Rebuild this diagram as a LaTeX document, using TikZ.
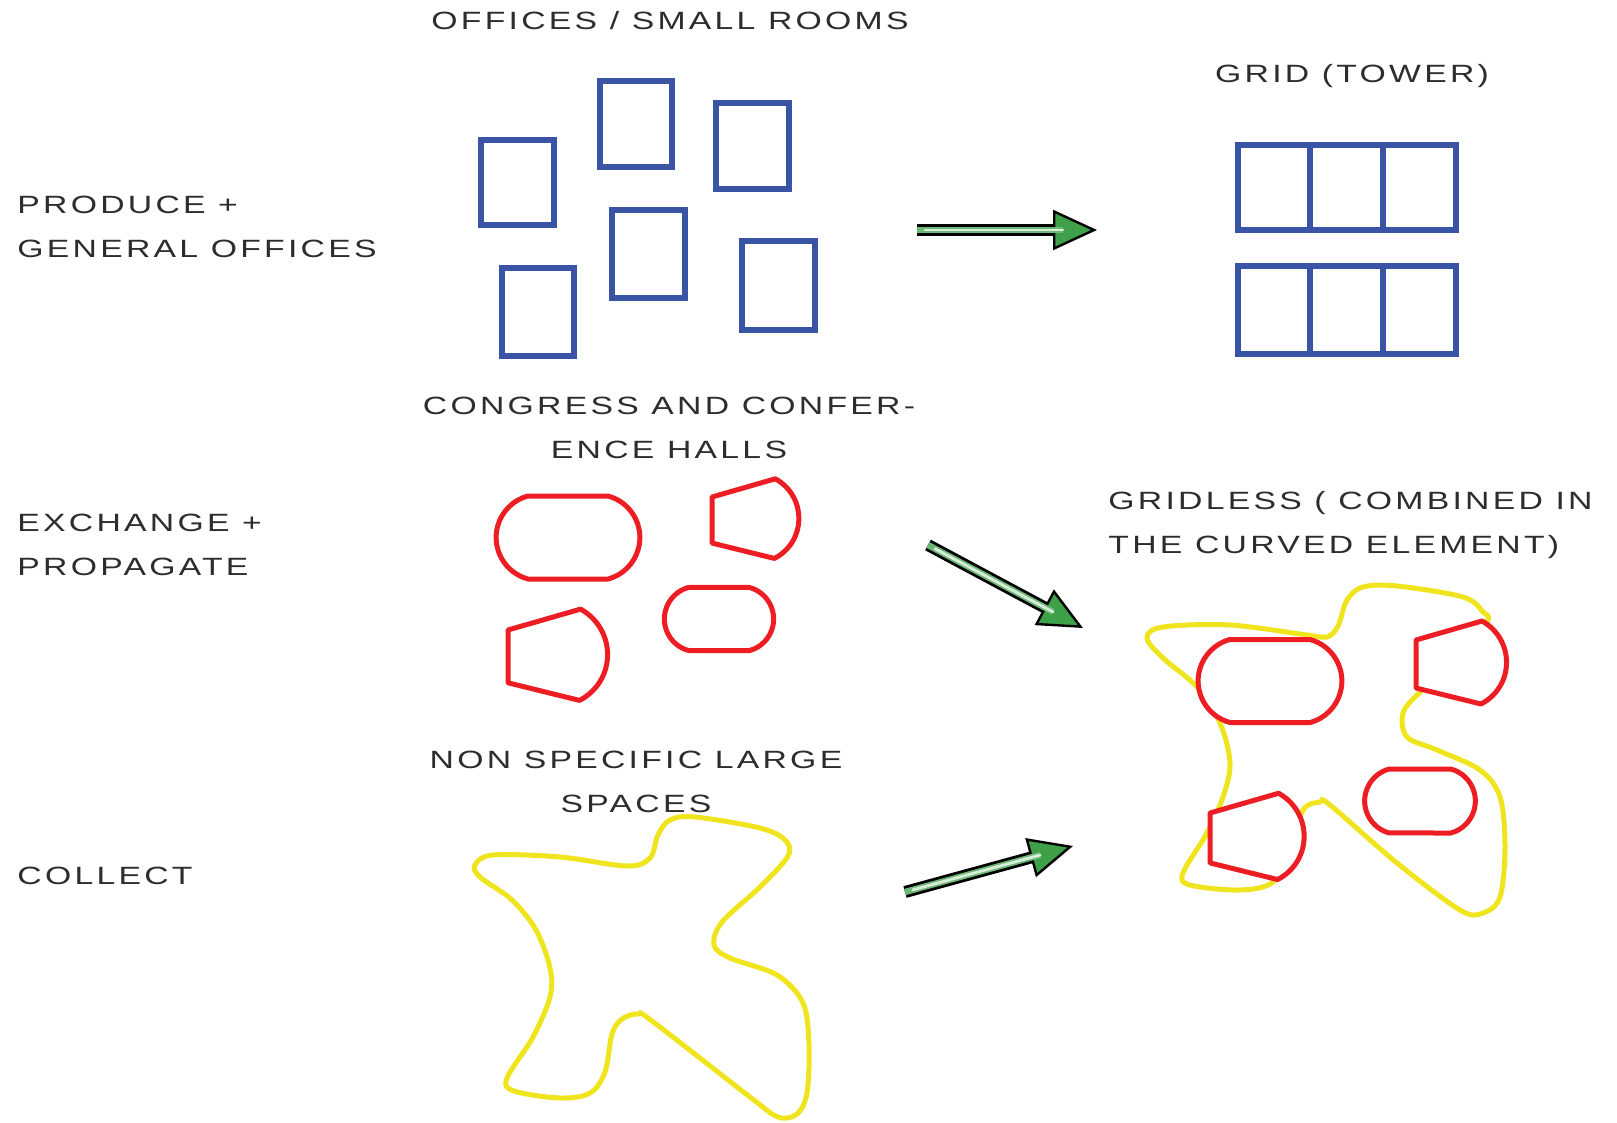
\documentclass[tikz,border=0pt]{standalone}
\usepackage{fontspec}
\newfontfamily\labelfont[FakeStretch=1.35, LetterSpace=13]{Liberation Sans}
\usepackage{tikz}
\usetikzlibrary{arrows.meta}

\definecolor{roomblue}{RGB}{58,84,165}
\definecolor{hallred}{RGB}{236,30,36}
\definecolor{spaceyellow}{RGB}{240,228,30}
\definecolor{arrowgreen}{RGB}{62,160,72}
\definecolor{labelgray}{RGB}{45,45,45}

\begin{document}
\begin{tikzpicture}[x=0.5pt, y=-0.5pt,
    room/.style={draw=roomblue, line width=2.8pt},
    hall/.style={draw=hallred, fill=white, line width=2.5pt, line join=round},
    space/.style={draw=spaceyellow, line width=2.5pt},
    caption/.style={text=labelgray, inner sep=0pt, font=\labelfont\fontsize{12.5}{22}\selectfont},
    flowbody/.style={draw=black, line width=6pt, -{Triangle[length=22pt, width=20pt, line width=1.2pt, fill=arrowgreen]}},
    flowcore/.style={draw=arrowgreen!75!white, line width=3.2pt, shorten >=17pt},
    flowshine/.style={draw=white!80!arrowgreen, line width=1.4pt, line cap=round, shorten >=17pt, shorten <=4pt},
    pics/hall/.style={code={
        \draw[hall] (-40,-41.5) -- (40,-41.5) arc[start angle=-75, end angle=75, radius=43]
            -- (-40,41.5) arc[start angle=105, end angle=255, radius=43] -- cycle;}},
    pics/auditorium/.style={code={
        \draw[hall] (0,0) -- (0,48) -- (65,64) .. controls (98.7,46.4) and (99,-0.4) .. (66,-19) -- cycle;}}
  ]
  \useasboundingbox (0,0) rectangle (1617,1123);

  % labels (base of a two-line label is its last line)
  \node[caption, anchor=base] (officesTitle) at (670,30) {OFFICES / SMALL ROOMS};
  \node[caption, anchor=base] (gridTitle) at (1352,83) {GRID (TOWER)};
  \node[caption, anchor=base west, align=left] (produce) at (17,258) {PRODUCE +\\GENERAL OFFICES};
  \node[caption, anchor=base, align=center] (congressTitle) at (669,458) {CONGRESS AND CONFER-\\ENCE HALLS};
  \node[caption, anchor=base west, align=left] (gridlessTitle) at (1108,553) {GRIDLESS ( COMBINED IN\\THE CURVED ELEMENT)};
  \node[caption, anchor=base west, align=left] (exchange) at (17,575) {EXCHANGE +\\PROPAGATE};
  \node[caption, anchor=base, align=center] (spacesTitle) at (636,812) {NON SPECIFIC LARGE\\SPACES};
  \node[caption, anchor=base west] (collect) at (17,884) {COLLECT};

  % offices
  \draw[room] (481,140) rectangle (554,225);
  \draw[room] (600,81) rectangle (672,167);
  \draw[room] (716,103) rectangle (789,189);
  \draw[room] (612,210) rectangle (685,298);
  \draw[room] (502,268) rectangle (574,356);
  \draw[room] (742,241) rectangle (815,330);

  % grid tower
  \draw[room] (1238,145) rectangle (1456,230);
  \draw[room] (1310,145) -- (1310,230) (1383,145) -- (1383,230);
  \draw[room] (1238,266) rectangle (1456,354);
  \draw[room] (1310,266) -- (1310,354) (1383,266) -- (1383,354);

  % halls
  \pic at (568,537.5) {hall};
  \pic[scale=0.76] at (719,619) {hall};
  \pic[scale=0.96] at (712,497) {auditorium};
  \pic[scale=1.1] at (508,630) {auditorium};

  % large space
  \draw[space] plot[smooth cycle, tension=0.55] coordinates {
    (475,865) (493,855) (560,857) (627,866) (650,858) (658,835) (670,820) (695,817)
    (760,828) (785,840) (788,856) (760,887) (722,922) (714,945) (730,958) (777,975)
    (803,1003) (809,1045) (807,1093) (797,1114) (778,1117) (750,1097) (652,1021)
    (638,1014) (622,1019) (612,1034) (605,1072) (590,1093) (560,1098) (514,1091)
    (507,1078) (533,1037) (550,997) (550,968) (536,930) (512,900) (480,877)};

  % gridless combination
  \draw[space] plot[smooth cycle, tension=0.55] coordinates {
    (1147,638) (1163,627) (1230,625) (1307,635) (1327,637) (1338,626) (1347,600)
    (1363,587) (1397,586) (1463,597) (1483,612) (1487,622) (1455,660) (1420,692)
    (1403,713) (1407,737) (1437,750) (1480,770) (1500,797) (1505,847) (1500,897)
    (1483,913) (1460,910) (1397,863) (1330,805) (1320,802) (1303,810) (1290,850)
    (1273,882) (1240,890) (1190,885) (1183,873) (1207,833) (1223,797) (1230,763)
    (1220,723) (1197,687) (1163,658)};
  \pic at (1270,681) {hall};
  \pic[scale=0.77] at (1420,801) {hall};
  \pic at (1416,640) {auditorium};
  \pic[scale=1.04] at (1210,813) {auditorium};

  % arrows
  \coordinate (gridFrom) at (917,230);
  \coordinate (gridTo) at (1097,230);
  \coordinate (hallFrom) at (928,545);
  \coordinate (hallTo) at (1083,628);
  \coordinate (spaceFrom) at (905,892);
  \coordinate (spaceTo) at (1073,846);
  \draw[flowbody] (gridFrom) -- (gridTo);
  \draw[flowcore] (gridFrom) -- (gridTo);
  \draw[flowshine] (gridFrom) -- (gridTo);
  \draw[flowbody] (hallFrom) -- (hallTo);
  \draw[flowcore] (hallFrom) -- (hallTo);
  \draw[flowshine] (hallFrom) -- (hallTo);
  \draw[flowbody] (spaceFrom) -- (spaceTo);
  \draw[flowcore] (spaceFrom) -- (spaceTo);
  \draw[flowshine] (spaceFrom) -- (spaceTo);
\end{tikzpicture}
\end{document}
